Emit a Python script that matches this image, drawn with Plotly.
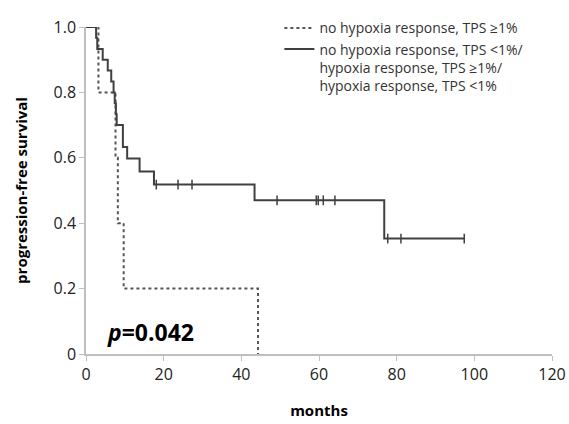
import plotly.graph_objects as go

# Group A: no hypoxia response, TPS >=1% (dashed)
a_months = [0, 3.2, 7.6, 8.2, 9.7, 44.3]
a_surv = [1.0, 0.8, 0.6, 0.4, 0.2, 0.0]

# Group B: others (solid)
b_months = [0, 2.6, 2.9, 4.3, 5.6, 6.5, 7.1, 7.4, 7.7, 7.9, 9.5, 10.6, 13.8, 17.5, 43.4, 76.8, 97.4]
b_surv = [1.0, 0.967, 0.933, 0.9, 0.867, 0.833, 0.8, 0.767, 0.733, 0.70, 0.633, 0.598, 0.558, 0.518, 0.47, 0.353, 0.353]

# Censored observations in group B
cens_months = [18.1, 23.7, 27.3, 49.2, 59.3, 59.8, 61.1, 64.1, 77.7, 81.1, 97.4]
cens_surv = [0.518, 0.518, 0.518, 0.47, 0.47, 0.47, 0.47, 0.47, 0.353, 0.353, 0.353]

x_ticks = [0, 20, 40, 60, 80, 100, 120]
y_ticks = [0, 0.2, 0.4, 0.6, 0.8, 1.0]
y_labels = ["0", "0.2", "0.4", "0.6", "0.8", "1.0"]

name_a = "no hypoxia response, TPS ≥1%"
name_b = "no hypoxia response, TPS <1%/<br>hypoxia response, TPS ≥1%/<br>hypoxia response, TPS <1%"

fig = go.Figure()
fig.add_trace(go.Scatter(x=a_months, y=a_surv, mode="lines", line_shape="hv",
                         line=dict(color="#555555", width=2, dash="3px,3px"), name=name_a))
fig.add_trace(go.Scatter(x=b_months, y=b_surv, mode="lines", line_shape="hv",
                         line=dict(color="#404040", width=2), name=name_b))
fig.add_trace(go.Scatter(x=cens_months, y=cens_surv, mode="markers", showlegend=False,
                         marker=dict(symbol="line-ns", size=7, line=dict(color="#404040", width=1.5))))

fig.add_annotation(x=16.6, y=0.068, xref="x", yref="y", text="<b><i>p</i>=0.042</b>",
                   showarrow=False, font=dict(family="Open Sans", size=23, color="#000000"))

fig.update_layout(
    width=569, height=424,
    margin=dict(l=86, r=17, t=18, b=70),
    paper_bgcolor="white", plot_bgcolor="white",
    font=dict(family="Open Sans", color="#222222"),
    legend=dict(x=0.415, y=1.045, xanchor="left", yanchor="top", valign="top",
                font=dict(family="Open Sans", size=14, color="#333333"),
                bgcolor="rgba(0,0,0,0)", tracegroupgap=0),
    xaxis=dict(range=[0, 120], tickvals=x_ticks, showgrid=False, zeroline=False,
               showline=True, linecolor="#bfbfbf", linewidth=1.5, automargin=False,
               ticks="outside", ticklen=5, tickcolor="#bfbfbf",
               tickfont=dict(size=16, color="#222222"),
               title=dict(text="<b>months</b>", font=dict(size=15, color="#000000"), standoff=22)),
    yaxis=dict(range=[0, 1.0], tickvals=y_ticks, ticktext=y_labels, showgrid=False, zeroline=False,
               showline=True, linecolor="#bfbfbf", linewidth=1.5, automargin=False,
               ticks="outside", ticklen=5, tickcolor="#bfbfbf",
               tickfont=dict(size=16, color="#222222"),
               title=dict(text="<b>progression-free survival</b>", font=dict(size=15, color="#000000"), standoff=22)),
)

fig.write_html("out.html")
